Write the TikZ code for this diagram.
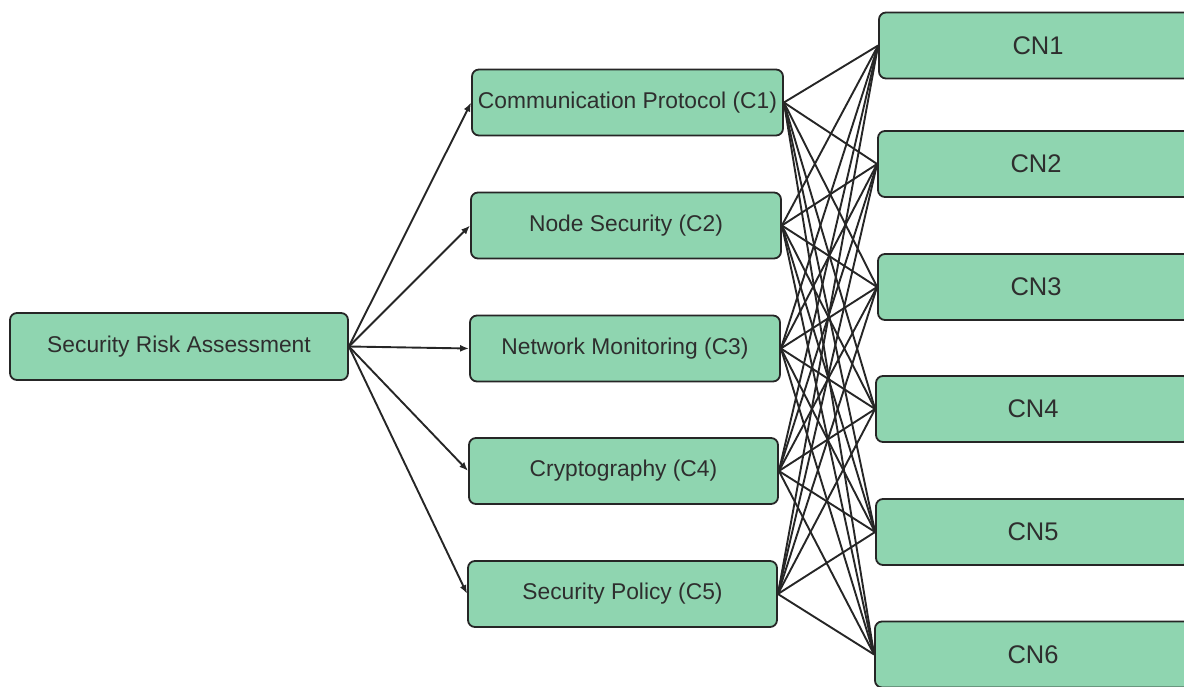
\documentclass[tikz,border=0pt]{standalone}
\usepackage{fontspec}
\setmainfont{Liberation Sans}
\usetikzlibrary{arrows.meta}
\definecolor{boxfill}{HTML}{8FD5B0}
\definecolor{boxline}{HTML}{262626}
\definecolor{txt}{HTML}{2E2E2E}
\tikzset{
  box/.style={draw=boxline, fill=boxfill, line width=1.8pt, rounded corners=7pt,
    inner sep=0pt, text=txt, font=\fontsize{22.8}{26}\selectfont, anchor=center},
  cnbox/.style={box, minimum width=316pt, minimum height=66pt, font=\fontsize{25.5}{28}\selectfont},
  cbox/.style={box, minimum width=310pt, minimum height=66pt},
  link/.style={draw=boxline, line width=1.9pt},
  arr/.style={link, -{Latex[length=9pt,width=7pt]}}
}
\begin{document}
\begin{tikzpicture}[x=1pt,y=-1pt]
\useasboundingbox (0,0) rectangle (1184,687);
\node[box, minimum width=338pt, minimum height=67pt] (sra) at (179,346.5) {Security Risk Assessment};
\node[cbox, minimum width=311pt] (c1) at (627.5,102.5) {Communication Protocol (C1)};
\node[cbox] (c2) at (626,225.5) {Node Security (C2)};
\node[cbox] (c3) at (625,348.5) {Network Monitoring (C3)};
\node[cbox, minimum width=309pt] (c4) at (623.5,471) {Cryptography (C4)};
\node[cbox, minimum width=309pt] (c5) at (622.5,594) {Security Policy (C5)};
\node[cnbox, minimum width=318pt] (n1) at (1038,45.5) {CN1};
\node[cnbox] (n2) at (1036,164) {CN2};
\node[cnbox] (n3) at (1036,287) {CN3};
\node[cnbox, minimum width=314pt] (n4) at (1033,409) {CN4};
\node[cnbox, minimum width=314pt] (n5) at (1033,532) {CN5};
\node[cnbox, minimum width=316pt] (n6) at (1033,654.5) {CN6};
\foreach \c in {c1,c2,c3,c4,c5}
  \draw[arr] (sra.east) -- (\c.west);
\foreach \c in {c1,c2,c3,c4,c5}
  \foreach \n in {n1,n2,n3,n4,n5,n6}
    \draw[link] (\c.east) -- (\n.west);
\end{tikzpicture}
\end{document}
